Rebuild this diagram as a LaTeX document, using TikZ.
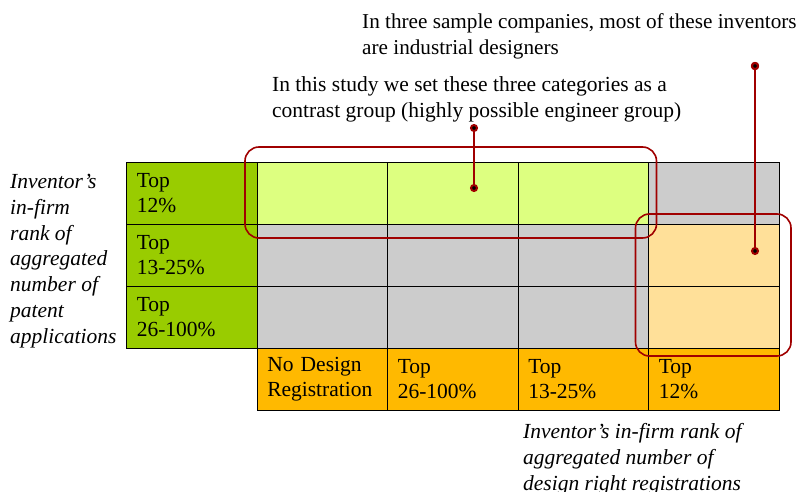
\documentclass[tikz,border=0pt]{standalone}
\usepackage{fontspec}
\setmainfont{Liberation Serif}
\usetikzlibrary{positioning,calc,arrows.meta}

\definecolor{patentgreen}{RGB}{153,204,0}
\definecolor{contrastgreen}{RGB}{221,255,128}
\definecolor{othergray}{RGB}{204,204,204}
\definecolor{designpeach}{RGB}{255,224,153}
\definecolor{designorange}{RGB}{255,185,0}
\definecolor{markred}{RGB}{160,0,0}

\begin{document}
\begin{tikzpicture}[x=1pt,y=-1pt,font=\fontsize{21.5}{24.5}\selectfont]
\tikzstyle{cell}=[rectangle,draw,line width=0.8pt,minimum width=130.5pt,minimum height=62pt,inner sep=0pt,outer sep=0pt]
\tikzstyle{label cell}=[cell,text width=110pt,align=left]
\tikzstyle{note}=[anchor=north west,inner sep=0pt,align=left]

\tikzset{
	rank cell/.style={label cell,fill=patentgreen},
	design cell/.style={label cell,fill=designorange},
	contrast cell/.style={cell,fill=contrastgreen},
	other cell/.style={cell,fill=othergray},
	designer cell/.style={cell,fill=designpeach},
	group box/.style={draw=markred,line width=1.6pt,rounded corners=14pt},
	pointer/.style={draw=markred,line width=2pt,{Circle[length=8pt]}-{Circle[length=8pt]}}
}
\useasboundingbox (0,0) rectangle (807,492);

    % rows: patent rank
    \node[rank cell] (p1) at (191.75,193) {Top\\12\%};
    \node[rank cell] (p2) [below=0pt of p1] {Top\\13-25\%};
    \node[rank cell] (p3) [below=0pt of p2] {Top\\26-100\%};

    \node[contrast cell] (c11) [right=0pt of p1] {};
    \node[contrast cell] (c12) [right=0pt of c11] {};
    \node[contrast cell] (c13) [right=0pt of c12] {};
    \node[other cell] (c14) [right=0pt of c13] {};

    \node[other cell] (c21) [right=0pt of p2] {};
    \node[other cell] (c22) [right=0pt of c21] {};
    \node[other cell] (c23) [right=0pt of c22] {};
    \node[designer cell] (c24) [right=0pt of c23] {};

    \node[other cell] (c31) [right=0pt of p3] {};
    \node[other cell] (c32) [right=0pt of c31] {};
    \node[other cell] (c33) [right=0pt of c32] {};
    \node[designer cell] (c34) [right=0pt of c33] {};

    % columns: design rank
    \node[design cell] (d1) [below=0pt of c31] {No Design\\Registration};
    \node[design cell] (d2) [right=0pt of d1] {Top\\26-100\%};
    \node[design cell] (d3) [right=0pt of d2] {Top\\13-25\%};
    \node[design cell] (d4) [right=0pt of d3] {Top\\12\%};

    % axis titles
    \node[note,font=\fontsize{21.5}{25.8}\selectfont\itshape] (patent axis) at (10,174)
        {Inventor’s\\in-firm\\rank of\\aggregated\\number of\\patent\\applications};
    \node[note,font=\fontsize{21.5}{26}\selectfont\itshape] (design axis) at (523,423)
        {Inventor’s in-firm rank of\\aggregated number of\\design right registrations};

    % remarks
    \node[note,font=\fontsize{21.5}{26.5}\selectfont] (contrast note) at (272,76)
        {In this study we set these three categories as a\\contrast group (highly possible engineer group)};
    \node[note,font=\fontsize{21.2}{26}\selectfont] (designer note) at (362,13)
        {In three sample companies, most of these inventors\\are industrial designers};

    \draw[group box] ($(c11.north west)+(-12,-15)$) rectangle ($(c13.south east)+(8,14)$);
    \draw[group box] ($(c24.north west)+(-13,-10)$) rectangle ($(c34.south east)+(12,8)$);

    \coordinate (contrast end) at (474,124);
    \coordinate (contrast dot) at (474,192);
    \coordinate (designer end) at (755,62);
    \coordinate (designer dot) at (755,255);
    \path[pointer] (contrast end) edge (contrast dot)
                   (designer end) edge (designer dot);
\end{tikzpicture}
\end{document}
